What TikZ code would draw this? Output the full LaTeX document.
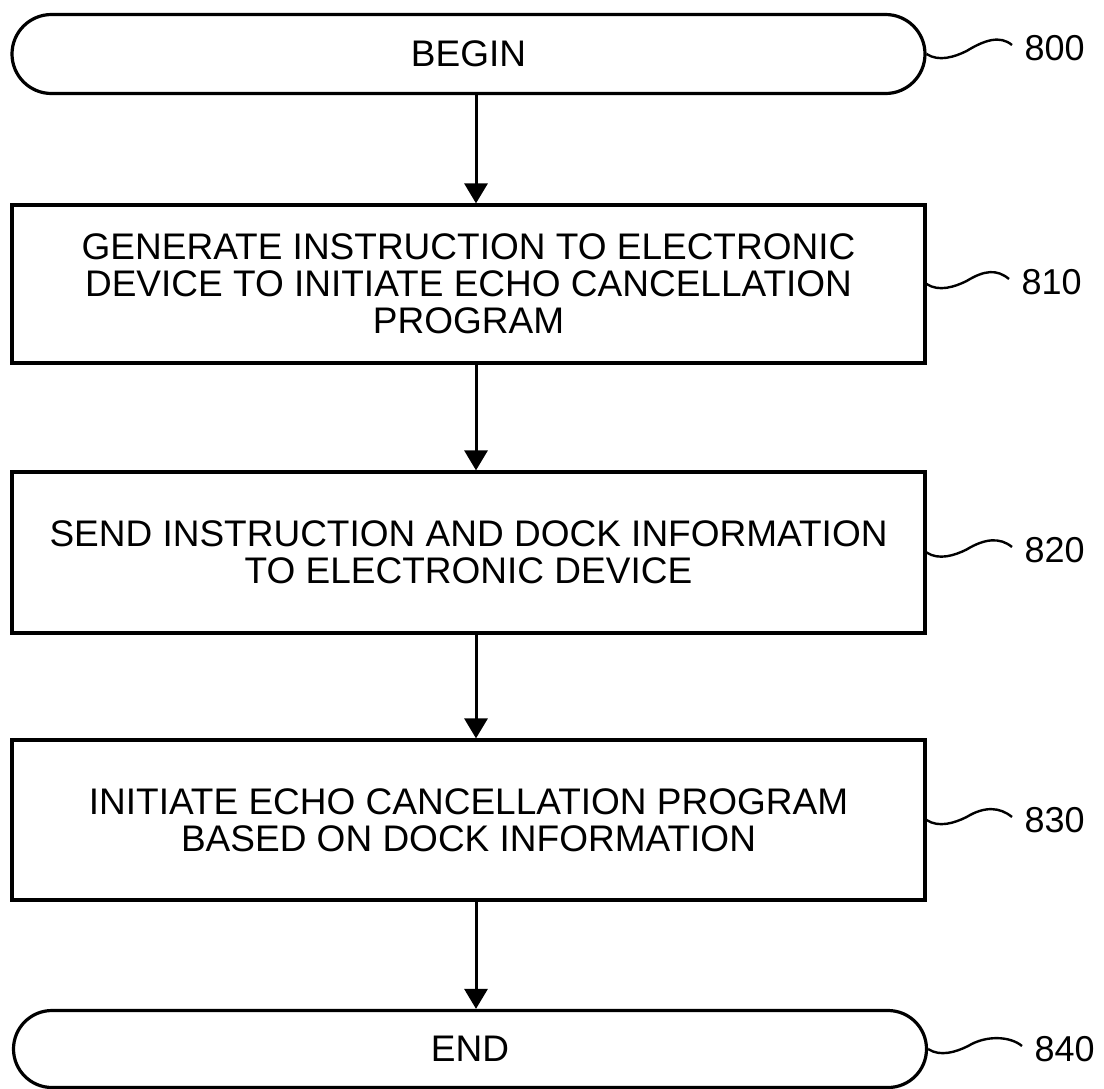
\documentclass[tikz,border=0pt]{standalone}
\usepackage{fontspec}
\setmainfont{Liberation Sans}
\usetikzlibrary{arrows.meta,shapes.misc}
\begin{document}
\begin{tikzpicture}[x=1pt,y=-1pt,
  line width=3.2pt,
  boxtext/.style={font=\fontsize{37}{37}\selectfont, align=center},
  term/.style={draw, rounded rectangle, minimum width=913pt, boxtext, inner sep=0pt},
  proc/.style={draw, rectangle, minimum width=913pt, boxtext, inner sep=0pt},
  flow/.style={-{Triangle[width=23pt,length=20pt]}, line width=3pt},
  lead/.style={line width=2.4pt},
  refnum/.style={font=\fontsize{36}{36}\selectfont, inner sep=5pt, anchor=west}]
\useasboundingbox (0,0) rectangle (1104,1088);

% flowchart steps
\node[term, minimum height=79pt] (begin) at (468.5,54) {BEGIN};
\node[proc, minimum height=158pt] (s810) at (468.5,284)
  {GENERATE INSTRUCTION TO ELECTRONIC\\DEVICE TO INITIATE ECHO CANCELLATION\\PROGRAM};
\node[proc, minimum height=161pt] (s820) at (468.5,552.5)
  {SEND INSTRUCTION AND DOCK INFORMATION\\TO ELECTRONIC DEVICE};
\node[proc, minimum height=160pt] (s830) at (468.5,820)
  {INITIATE ECHO CANCELLATION PROGRAM\\BASED ON DOCK INFORMATION};
\node[term, minimum height=77pt] (end) at (470,1049) {END};

% vertical flow line
\coordinate (ax) at (476,0);
\draw[flow] (begin.south -| ax) -- (s810.north -| ax);
\draw[flow] (s810.south -| ax) -- (s820.north -| ax);
\draw[flow] (s820.south -| ax) -- (s830.north -| ax);
\draw[flow] (s830.south -| ax) -- (end.north -| ax);

% reference numerals with wavy leaders
\node[refnum] (l800) at (1018,48) {800};
\node[refnum] (l810) at (1015,282) {810};
\node[refnum] (l820) at (1018,550) {820};
\node[refnum] (l830) at (1018,820) {830};
\node[refnum] (l840) at (1028,1049) {840};

\foreach \src/\dst in {begin/l800, s810/l810, s820/l820, s830/l830, end/l840}{
  \draw[lead] (\src.east) .. controls +(12,8) and +(-12,6) .. ++(40,-3)
    .. controls +(18,-11) and +(-12,-10) .. ([xshift=-6pt,yshift=3pt]\dst.west);
}
\end{tikzpicture}
\end{document}
